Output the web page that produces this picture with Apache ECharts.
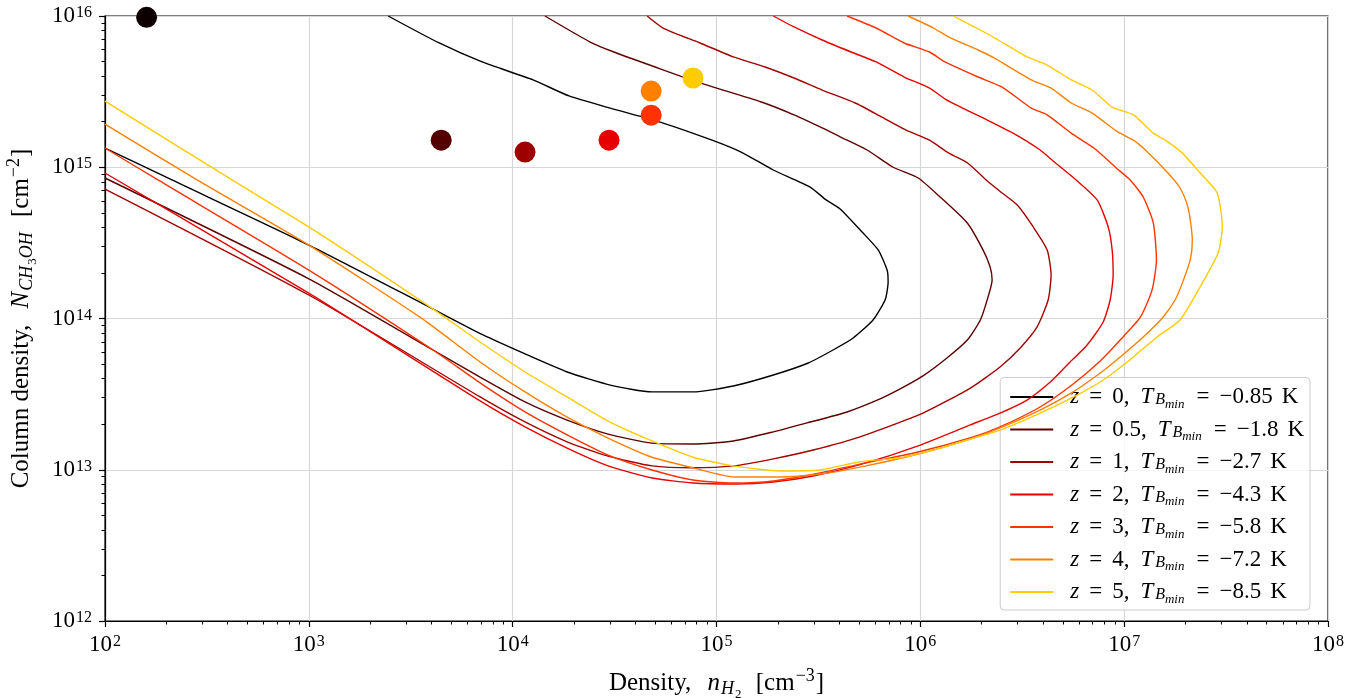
<!DOCTYPE html>
<html>
<head>
<meta charset="utf-8">
<title>Methanol absorption detectability contours</title>
<script src="https://cdn.jsdelivr.net/npm/echarts@6/dist/echarts.min.js"></script>
<style>
  html, body { margin: 0; padding: 0; background: #ffffff; }
  #chart { width: 1364px; height: 698px; }
</style>
</head>
<body>
<div id="chart"></div>
<script>
// Decades labelled on each axis (exponents of ten)
const xMajorExponents = [2, 3, 4, 5, 6, 7, 8];
const yMajorExponents = [12, 13, 14, 15, 16];

// Legend entries: redshift and minimum brightness temperature
const redshifts = ['0', '0.5', '1', '2', '3', '4', '5'];
const tbMin = ['−0.85', '−1.8', '−2.7', '−4.3', '−5.8', '−7.2', '−8.5'];
const lineColors = ['#000000', '#5c0000', '#a30000', '#e80000', '#ff3300', '#ff8000', '#ffcc00'];

// Contour paths: [n_H2 (cm^-3), N_CH3OH (cm^-2)]
const contourZ0 = [
  [100, 1.34e15], [213, 8.24e14], [1000, 3.06e14], [3720, 1.23e14], [7160, 7.78e13],
  [11800, 5.74e13], [18500, 4.43e13], [30100, 3.63e13], [48300, 3.27e13], [76700, 3.27e13],
  [121000, 3.58e13], [190000, 4.23e13], [282000, 5.08e13], [373000, 6.19e13], [468000, 7.43e13],
  [586000, 9.77e13], [672000, 1.33e14], [695000, 1.74e14], [687000, 2.09e14], [621000, 2.84e14],
  [518000, 3.73e14], [404000, 5.30e14], [345000, 6.08e14], [288000, 7.40e14], [190000, 9.59e14],
  [132000, 1.26e15], [95100, 1.51e15], [54700, 1.96e15], [30100, 2.46e15], [18900, 2.96e15],
  [12600, 3.78e15], [7080, 4.97e15], [4360, 6.63e15], [2450, 1e16]
];
const contourZ05 = [
  [100, 8.49e14], [1000, 1.83e14], [4070, 6.19e13], [6920, 4.10e13], [11500, 2.81e13],
  [18500, 2.13e13], [29400, 1.72e13], [48300, 1.50e13], [76700, 1.48e13], [121000, 1.55e13],
  [190000, 1.78e13], [278000, 2.04e13], [437000, 2.41e13], [635000, 2.94e13], [796000, 3.42e13],
  [1.03e6, 4.17e13], [1.35e6, 5.48e13], [1.70e6, 7.21e13], [1.97e6, 9.77e13], [2.15e6, 1.39e14],
  [2.25e6, 1.80e14], [2.20e6, 2.19e14], [2.03e6, 2.84e14], [1.70e6, 4.28e14], [1.25e6, 6.36e14],
  [976000, 8.49e14], [736000, 1.00e15], [548000, 1.30e15], [404000, 1.59e15], [330000, 1.82e15],
  [240000, 2.22e15], [166000, 2.70e15], [83100, 3.61e15], [50000, 4.60e15], [31400, 5.78e15],
  [24000, 6.73e15], [14400, 1e16]
];
const contourZ1 = [
  [100, 7.18e14], [1000, 1.43e14], [6920, 3.03e13], [11500, 2.07e13], [18500, 1.53e13],
  [29400, 1.23e13], [48300, 1.06e13], [76700, 1.03e13], [121000, 1.06e13], [190000, 1.18e13],
  [298000, 1.35e13], [506000, 1.65e13], [1.03e6, 2.37e13], [1.76e6, 3.47e13], [2.46e6, 4.78e13],
  [3.09e6, 6.38e13], [3.74e6, 8.79e13], [4.24e6, 1.33e14], [4.38e6, 1.94e14], [4.19e6, 2.84e14],
  [3.58e6, 4.03e14], [2.99e6, 5.63e14], [2.52e6, 6.76e14], [2.13e6, 8.11e14], [1.70e6, 1.07e15],
  [1.38e6, 1.24e15], [1.11e6, 1.51e15], [852000, 1.76e15], [635000, 2.18e15], [479000, 2.66e15],
  [330000, 3.24e15], [240000, 3.89e15], [173000, 4.60e15], [121000, 5.36e15], [83100, 6.63e15],
  [54700, 8.33e15], [45700, 1e16]
];
const contourZ2 = [
  [100, 9.16e14], [1000, 1.47e14], [6920, 2.85e13], [11500, 1.92e13], [18500, 1.39e13],
  [29400, 1.06e13], [48300, 8.82e12], [76700, 8.17e12], [126000, 8.05e12], [190000, 8.30e12],
  [298000, 9.09e12], [506000, 1.08e13], [976000, 1.44e13], [1.76e6, 1.98e13], [2.46e6, 2.37e13],
  [3.34e6, 2.89e13], [4.34e6, 3.80e13], [5.43e6, 5.16e13], [6.58e6, 6.68e13], [7.89e6, 9.48e13],
  [8.54e6, 1.33e14], [8.83e6, 1.94e14], [8.73e6, 2.84e14], [8.35e6, 4.03e14], [7.37e6, 6.08e14],
  [5.81e6, 8.24e14], [4.59e6, 1.07e15], [3.87e6, 1.30e15], [2.85e6, 1.68e15], [2.13e6, 2.05e15],
  [1.35e6, 2.78e15], [1.11e6, 3.34e15], [833000, 3.95e15], [607000, 4.97e15], [458000, 5.78e15],
  [330000, 6.94e15], [240000, 8.46e15], [190000, 1e16]
];
const contourZ3 = [
  [100, 1.34e15], [182, 8.24e14], [1000, 2.09e14], [4070, 6.19e13], [6920, 3.75e13],
  [11500, 2.41e13], [18500, 1.70e13], [29400, 1.25e13], [48300, 9.96e12], [76700, 8.55e12],
  [121000, 8.17e12], [190000, 8.43e12], [322000, 9.52e12], [506000, 1.09e13], [976000, 1.31e13],
  [1.82e6, 1.65e13], [2.46e6, 1.92e13], [3.87e6, 2.60e13], [5.62e6, 3.69e13], [7.63e6, 5.24e13],
  [9.56e6, 7.21e13], [1.20e7, 1.02e14], [1.37e7, 1.54e14], [1.44e7, 2.44e14], [1.39e7, 4.28e14],
  [1.24e7, 6.36e14], [1.07e7, 8.24e14], [9.14e6, 9.89e14], [7.21e6, 1.32e15], [5.50e6, 1.68e15],
  [4.19e6, 2.22e15], [3.50e6, 2.46e15], [2.52e6, 3.39e15], [1.92e6, 3.95e15], [1.32e6, 4.97e15],
  [1.11e6, 5.78e15], [833000, 6.63e15], [607000, 8.33e15], [437000, 1e16]
];
const contourZ4 = [
  [100, 1.93e15], [283, 8.24e14], [1000, 3.06e14], [3510, 1.02e14], [6920, 5.16e13],
  [11500, 3.27e13], [18500, 2.23e13], [29400, 1.62e13], [48300, 1.21e13], [76700, 1.03e13],
  [123000, 8.95e12], [205000, 8.95e12], [322000, 9.37e12], [506000, 1.04e13], [976000, 1.27e13],
  [1.82e6, 1.62e13], [2.46e6, 1.89e13], [3.87e6, 2.48e13], [5.62e6, 3.27e13], [7.63e6, 4.36e13],
  [9.56e6, 5.57e13], [1.24e7, 7.55e13], [1.55e7, 1.02e14], [1.78e7, 1.33e14], [1.93e7, 1.72e14],
  [2.11e7, 2.44e14], [2.16e7, 3.30e14], [2.11e7, 4.48e14], [2.04e7, 5.63e14], [1.88e7, 7.29e14],
  [1.64e7, 9.16e14], [1.27e7, 1.30e15], [1.11e7, 1.51e15], [9.14e6, 1.74e15], [6.97e6, 2.28e15],
  [5.50e6, 2.66e15], [4.38e6, 3.34e15], [3.50e6, 3.78e15], [2.30e6, 5.28e15], [1.92e6, 5.96e15],
  [1.38e6, 7.26e15], [1.16e6, 8.33e15], [871000, 1e16]
];
const contourZ5 = [
  [100, 2.74e15], [420, 8.24e14], [1000, 4.03e14], [3800, 1.23e14], [6920, 6.99e13],
  [11500, 4.43e13], [18500, 3.03e13], [29400, 2.10e13], [48300, 1.55e13], [76700, 1.21e13],
  [121000, 1.06e13], [205000, 9.81e12], [322000, 9.96e12], [506000, 1.13e13], [796000, 1.20e13],
  [1.25e6, 1.39e13], [1.82e6, 1.62e13], [2.46e6, 1.83e13], [3.87e6, 2.37e13], [5.88e6, 3.12e13],
  [7.89e6, 3.92e13], [1.11e7, 5.57e13], [1.45e7, 7.55e13], [1.88e7, 9.77e13], [2.36e7, 1.62e14],
  [2.89e7, 2.71e14], [3.03e7, 4.03e14], [2.86e7, 6.76e14], [2.36e7, 9.16e14], [1.93e7, 1.24e15],
  [1.59e7, 1.51e15], [1.39e7, 1.68e15], [1.11e7, 2.22e15], [8.73e6, 2.50e15], [6.97e6, 3.24e15],
  [5.50e6, 3.78e15], [4.19e6, 4.74e15], [3.34e6, 5.36e15], [2.41e6, 6.94e15], [2.10e6, 7.72e15],
  [1.45e6, 1e16]
];
const contours = [contourZ0, contourZ05, contourZ1, contourZ2, contourZ3, contourZ4, contourZ5];

// Individual sources: density, column density and colour
const pointDensity = [160, 4460, 11500, 29700, 47800, 47800, 76700];
const pointColumn = [9.8e15, 1.51e15, 1.26e15, 1.51e15, 2.21e15, 3.19e15, 3.89e15];
const pointColors = ['#0d0000', '#550000', '#9e0000', '#e60000', '#ff3300', '#ff8000', '#ffcc00'];

const serif = "'Liberation Serif', 'DejaVu Serif', serif";

// minor tick positions (2..9 x 10^n) expressed in decades
function minorDecades(exps) {
  const out = [];
  for (let i = 0; i < exps.length - 1; i++) {
    for (let k = 2; k <= 9; k++) out.push(exps[i] + Math.log10(k));
  }
  return out;
}

const tickRich = {
  b: { fontFamily: serif, fontSize: 23, color: '#000', lineHeight: 28 },
  s: { fontFamily: serif, fontSize: 16, color: '#000', lineHeight: 16, verticalAlign: 'top', padding: [3, 0, 0, 1] }
};
const nameRich = {
  r: { fontFamily: serif, fontSize: 25, color: '#000', lineHeight: 36 },
  i: { fontFamily: serif, fontSize: 25, fontStyle: 'italic', color: '#000', lineHeight: 36, padding: [0, 1, 0, 2] },
  sub: { fontFamily: serif, fontSize: 18, fontStyle: 'italic', color: '#000', lineHeight: 18, verticalAlign: 'bottom', padding: [0, 1, 3, 0] },
  ss: { fontFamily: serif, fontSize: 13, color: '#000', lineHeight: 13, verticalAlign: 'bottom' },
  sp: { fontFamily: serif, fontSize: 25, color: '#000', lineHeight: 36, padding: [0, 4, 0, 4] },
  sup: { fontFamily: serif, fontSize: 18, color: '#000', lineHeight: 18, verticalAlign: 'top', padding: [2, 1, 0, 1] }
};
const legendRich = {
  r: { fontFamily: serif, fontSize: 23, color: '#000', lineHeight: 28 },
  c: { fontFamily: serif, fontSize: 23, color: '#000', lineHeight: 28, padding: [0, 11, 0, 0] },
  i: { fontFamily: serif, fontSize: 23, fontStyle: 'italic', color: '#000', lineHeight: 28 },
  eq: { fontFamily: serif, fontSize: 23, color: '#000', lineHeight: 28, padding: [0, 10, 0, 10] },
  k: { fontFamily: serif, fontSize: 23, color: '#000', lineHeight: 28, padding: [0, 0, 0, 9] },
  sub: { fontFamily: serif, fontSize: 16, fontStyle: 'italic', color: '#000', lineHeight: 16, verticalAlign: 'bottom', padding: [0, 0, 3, 2] },
  ss: { fontFamily: serif, fontSize: 13, fontStyle: 'italic', color: '#000', lineHeight: 13, verticalAlign: 'bottom', padding: [0, 2, 0, 0] }
};

const seriesNames = redshifts.map((z, i) => `z = ${z}, T_Bmin = ${tbMin[i]} K`);

const lineSeries = contours.map((data, i) => ({
  name: seriesNames[i],
  type: 'line',
  data: data,
  xAxisIndex: 0,
  yAxisIndex: 0,
  symbol: 'none',
  smooth: 0.2,
  clip: true,
  lineStyle: { color: lineColors[i], width: 1.4 },
  itemStyle: { color: lineColors[i] },
  z: 3 + i
}));

const pointSeries = {
  type: 'scatter',
  xAxisIndex: 0,
  yAxisIndex: 0,
  symbol: 'circle',
  symbolSize: 21,
  z: 20,
  data: pointDensity.map((d, i) => ({
    value: [d, pointColumn[i]],
    itemStyle: { color: pointColors[i], opacity: 1 }
  }))
};

const chart = echarts.init(document.getElementById('chart'), null, { renderer: 'canvas' });
chart.setOption({
  animation: false,
  backgroundColor: '#ffffff',
  grid: {
    left: 105, right: 36, top: 16, bottom: 77,
    outerBoundsMode: 'none',
    containLabel: false,
    show: true, borderColor: '#000', borderWidth: 1.2, backgroundColor: 'transparent'
  },
  xAxis: [
    {
      type: 'log', logBase: 10, position: 'bottom',
      min: Math.pow(10, xMajorExponents[0]),
      max: Math.pow(10, xMajorExponents[xMajorExponents.length - 1]),
      splitNumber: xMajorExponents.length - 1,
      axisLine: { show: true, lineStyle: { color: '#000', width: 1.2 } },
      axisTick: { show: true, inside: false, length: 6, lineStyle: { color: '#000', width: 1.2 } },
      axisLabel: {
        margin: 10,
        formatter: v => `{b|10}{s|${Math.round(Math.log10(v))}}`,
        rich: tickRich
      },
      splitLine: { show: true, lineStyle: { color: '#d7d7d7', width: 1.2 } },
      name: '{r|Density,}{sp| }{i|n}{sub|H}{ss|2}{sp| }{r|[cm}{sup|−3}{r|]}',
      nameLocation: 'middle',
      nameGap: 44,
      nameTextStyle: { rich: nameRich }
    },
    {
      type: 'value', position: 'bottom',
      min: xMajorExponents[0], max: xMajorExponents[xMajorExponents.length - 1],
      axisLine: { show: false },
      axisTick: { show: true, inside: false, length: 3.5, customValues: minorDecades(xMajorExponents), lineStyle: { color: '#000', width: 1 } },
      axisLabel: { show: false },
      splitLine: { show: false }
    }
  ],
  yAxis: [
    {
      type: 'log', logBase: 10, position: 'left',
      min: Math.pow(10, yMajorExponents[0]),
      max: Math.pow(10, yMajorExponents[yMajorExponents.length - 1]),
      splitNumber: yMajorExponents.length - 1,
      axisLine: { show: true, lineStyle: { color: '#000', width: 1.2 } },
      axisTick: { show: true, inside: false, length: 6, lineStyle: { color: '#000', width: 1.2 } },
      axisLabel: {
        margin: 13,
        formatter: v => `{b|10}{s|${Math.round(Math.log10(v))}}`,
        rich: tickRich
      },
      splitLine: { show: true, lineStyle: { color: '#d7d7d7', width: 1.2 } },
      name: '{r|Column density,}{sp| }{i|N}{sub|CH}{ss|3}{sub|OH}{sp| }{r|[cm}{sup|−2}{r|]}',
      nameLocation: 'middle',
      nameRotate: 90,
      nameGap: 66,
      nameTextStyle: { rich: nameRich }
    },
    {
      type: 'value', position: 'left',
      min: yMajorExponents[0], max: yMajorExponents[yMajorExponents.length - 1],
      axisLine: { show: false },
      axisTick: { show: true, inside: false, length: 3.5, customValues: minorDecades(yMajorExponents), lineStyle: { color: '#000', width: 1 } },
      axisLabel: { show: false },
      splitLine: { show: false }
    }
  ],
  legend: {
    data: seriesNames,
    orient: 'vertical',
    right: 54,
    bottom: 88,
    icon: 'rect',
    itemWidth: 43,
    itemHeight: 2,
    itemGap: 7,
    padding: [8, 6, 4, 10],
    backgroundColor: 'rgba(255,255,255,0.8)',
    borderColor: '#cccccc',
    borderWidth: 1,
    borderRadius: 4,
    selectedMode: false,
    formatter: name => {
      const i = seriesNames.indexOf(name);
      return `{i|z}{eq|=}{c|${redshifts[i]},}{i|T}{sub|B}{ss|min}{eq|=}{r|${tbMin[i]}}{k|K}`;
    },
    textStyle: { rich: legendRich, padding: [0, 0, 0, 12] }
  },
  series: [...lineSeries, pointSeries]
});
</script>
</body>
</html>
